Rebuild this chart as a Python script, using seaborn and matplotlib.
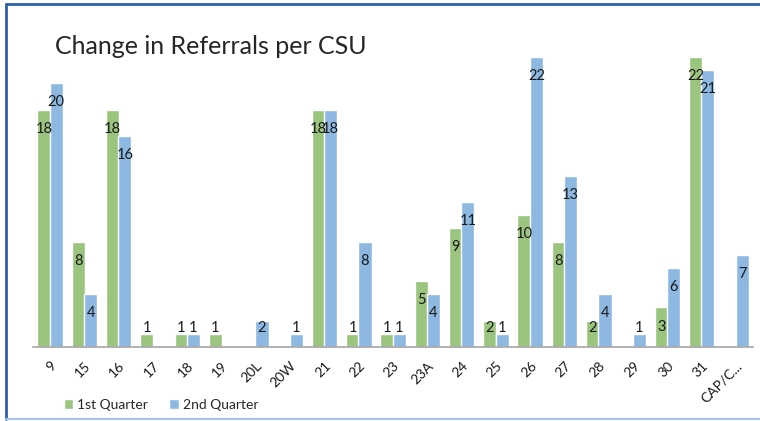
import numpy as np
import pandas as pd
import matplotlib
matplotlib.use("Agg")
from matplotlib import pyplot as plt
from matplotlib.lines import Line2D
from matplotlib.patches import Patch
import seaborn as sns

nan = np.nan
csu = ["9", "15", "16", "17", "18", "19", "20L", "20W", "21", "22", "23",
       "23A", "24", "25", "26", "27", "28", "29", "30", "31", "CAP/C..."]
q1 = [18, 8, 18, 1, 1, 1, nan, nan, 18, 1, 1, 5, 9, 2, 10, 8, 2, nan, 3, 22, nan]
q2 = [20, 4, 16, nan, 1, nan, 2, 1, 18, 8, 1, 4, 11, 1, 22, 13, 4, 1, 6, 21, 7]
quarters = ["1st Quarter", "2nd Quarter"]

green = "#9BC47F"
blue = "#8DB8E2"


def chart():
  df = pd.DataFrame({
    "CSU": csu * 2,
    "Quarter": [quarters[0]] * len(csu) + [quarters[1]] * len(csu),
    "Referrals": q1 + q2,
  })

  sns.set_style("white")
  plt.rcParams["font.family"] = ["Lato", "DejaVu Sans"]

  fig = plt.figure(figsize=(7.6, 4.21), dpi=100)
  ax = fig.add_axes([0.0434, 0.1758, 0.9476, 0.6888])
  sns.barplot(data=df, x="CSU", y="Referrals", hue="Quarter", order=csu,
              hue_order=quarters, palette=[green, blue], width=0.72,
              saturation=1, legend=False, ax=ax)

  # slightly overlapping bars, like the Excel original
  for p in ax.patches:
    c = p.get_x() + p.get_width() / 2
    p.set_width(0.385)
    p.set_x(c - 0.385 / 2)

  # data labels, inside end
  for p in ax.patches:
    h = p.get_height()
    if np.isnan(h) or h <= 0:
      continue
    ax.text(p.get_x() + p.get_width() / 2, max(h - 1.45, 1.45), f"{h:.0f}",
            ha="center", va="center", fontsize=10.5, color="#1a1a1a", zorder=5)

  ax.set_ylim(0, 22)
  ax.set_xlim(-0.5, len(csu) - 0.5)
  ax.set_xlabel("")
  ax.set_ylabel("")
  ax.set_yticks([])
  for s in ["top", "right", "left"]:
    ax.spines[s].set_visible(False)
  ax.spines["bottom"].set_color("#A6A6A6")
  ax.spines["bottom"].set_linewidth(1.2)
  ax.set_xticks(np.arange(-0.5, len(csu)), minor=True)
  ax.tick_params(axis="x", which="minor", length=5, width=1.2, color="#A6A6A6", direction="out")
  ax.tick_params(axis="x", which="major", length=0, pad=9)
  for lab in ax.get_xticklabels():
    lab.set_rotation(45)
    lab.set_ha("right")
    lab.set_rotation_mode("anchor")
    lab.set_fontsize(10)
    lab.set_color("#1a1a1a")

  fig.text(55 / 760, 1 - 47 / 421, "Change in Referrals per CSU", fontsize=18,
           ha="left", va="center", color="#262626")

  handles = [Patch(facecolor=green, label=quarters[0]),
             Patch(facecolor=blue, label=quarters[1])]
  fig.legend(handles=handles, loc="center left", bbox_to_anchor=(58 / 760, 1 - 405 / 421),
             ncol=2, frameon=False, fontsize=10, handlelength=0.7, handleheight=0.7,
             handletextpad=0.3, columnspacing=1.5, borderaxespad=0)

  # chart frame
  fig.add_artist(Line2D([6 / 760, 6 / 760], [2 / 421, 1 - 4 / 421], color="#2F5FA7", lw=2))
  fig.add_artist(Line2D([6 / 760, 1], [1 - 4 / 421, 1 - 4 / 421], color="#2F5FA7", lw=2))
  fig.add_artist(Line2D([6 / 760, 1], [2 / 421, 2 / 421], color="#A9C4E8", lw=1.5))

  plt.savefig("out.png", dpi=100)


if __name__ == "__main__":
  chart()
